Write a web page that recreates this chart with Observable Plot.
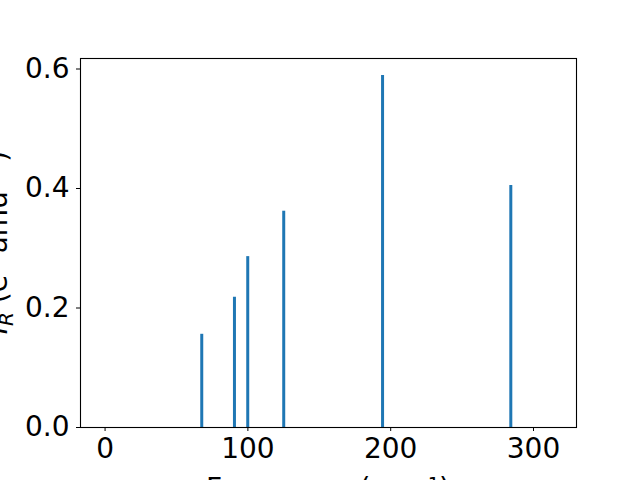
<!DOCTYPE html>
<html>
<head>
<meta charset="utf-8">
<script src="https://cdn.jsdelivr.net/npm/d3@7"></script>
<script src="https://cdn.jsdelivr.net/npm/@observablehq/plot@0.6"></script>
<style>
  html, body { margin: 0; padding: 0; background: #fff; }
  #chart svg { display: block; }
</style>
</head>
<body>
<div id="chart"></div>
<script>
const frequencies = [67.7, 90.6, 99.9, 125.1, 194.3, 284.1];
const intensities = [0.156, 0.218, 0.286, 0.362, 0.589, 0.405];
const xTicks = [0, 100, 200, 300];
const yTicks = [0, 0.2, 0.4, 0.6];
const xLabel = "Frequency (cm⁻¹)";

const data = frequencies.map((f, i) => ({f, v: intensities[i]}));

const W = 640, H = 480;
const mL = 80, mR = 64, mT = 58, mB = 53;
const font = "DejaVu Sans, sans-serif";

const chart = Plot.plot({
  width: W,
  height: H,
  marginLeft: mL,
  marginRight: mR,
  marginTop: mT,
  marginBottom: mB,
  style: {fontFamily: font, fontSize: "28px", color: "#000", background: "#fff"},
  x: {domain: [-17.2, 330.1], ticks: xTicks, tickSize: 4, tickPadding: 7, label: null, tickFormat: d => String(d)},
  y: {domain: [0, 0.6176], ticks: yTicks, tickSize: 4, tickPadding: 7, label: null, tickFormat: d => d.toFixed(1)},
  marks: [
    Plot.ruleX(data, {x: "f", y1: 0, y2: "v", stroke: "#1f77b4", strokeWidth: 3}),
    Plot.frame({stroke: "#000", strokeWidth: 1.1}),
    Plot.axisX({ticks: xTicks, tickSize: 4, tickPadding: 7, fontSize: 28, label: null, tickFormat: d => String(d)}),
    Plot.axisY({ticks: yTicks, tickSize: 4, tickPadding: 7, fontSize: 28, label: null, tickFormat: d => d.toFixed(1)})
  ]
});

document.getElementById("chart").appendChild(chart);

const svg = d3.select(chart);
// x axis label (partly cut off at the bottom, as in the reference)
svg.append("text")
  .attr("x", mL + (W - mL - mR) / 2)
  .attr("y", 498)
  .attr("text-anchor", "middle")
  .attr("font-family", font)
  .attr("font-size", 28)
  .attr("fill", "#000")
  .text(xLabel);

// y axis label (mostly cut off at the left)
const yl = svg.append("text")
  .attr("transform", `translate(7,${mT + (H - mT - mB) / 2}) rotate(-90)`)
  .attr("text-anchor", "middle")
  .attr("font-family", font)
  .attr("font-size", 28)
  .attr("fill", "#000");
yl.append("tspan").attr("font-style", "italic").text("I");
yl.append("tspan").attr("font-style", "italic").attr("font-size", 20).attr("dy", 6).text("R");
yl.append("tspan").attr("dy", -6).text(" (e");
yl.append("tspan").attr("font-size", 20).attr("dy", -11).text("2");
yl.append("tspan").attr("dy", 11).text(" amu");
yl.append("tspan").attr("font-size", 20).attr("dy", -11).text("−1");
yl.append("tspan").attr("dy", 11).text(")");
</script>
</body>
</html>
